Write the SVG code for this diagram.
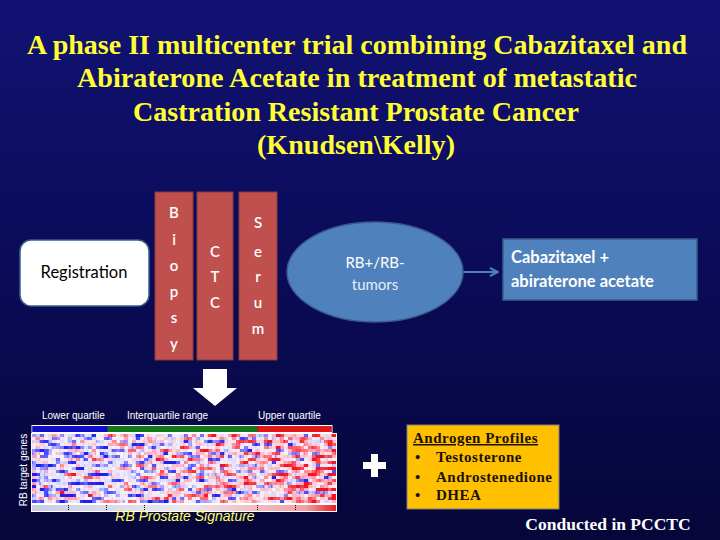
<svg xmlns="http://www.w3.org/2000/svg" width="720" height="540" viewBox="0 0 720 540">
  <defs>
    <linearGradient id="bg" x1="0" y1="0" x2="0" y2="1">
      <stop offset="0" stop-color="#121274"/>
      <stop offset="0.5" stop-color="#0b0b58"/>
      <stop offset="1" stop-color="#06063a"/>
    </linearGradient>
    <linearGradient id="trend" x1="0" y1="0" x2="1" y2="0">
      <stop offset="0" stop-color="#585858"/>
      <stop offset="0.45" stop-color="#7a7a7a"/>
      <stop offset="0.75" stop-color="#8e8e8e"/>
      <stop offset="1" stop-color="#b4b4b4"/>
    </linearGradient>
    <linearGradient id="sig" x1="0" y1="0" x2="1" y2="0">
      <stop offset="0" stop-color="#c8cbe8"/>
      <stop offset="0.5" stop-color="#ece6ee"/>
      <stop offset="0.9" stop-color="#f2a0a0"/>
      <stop offset="1" stop-color="#e82020"/>
    </linearGradient>
    <filter id="heat" x="0" y="0" width="1" height="1" color-interpolation-filters="sRGB">
      <feTurbulence type="fractalNoise" baseFrequency="0.09 0.33" numOctaves="2" seed="7" result="n"/>
      <feColorMatrix in="n" type="matrix" values="1 0 0 0 0  1 0 0 0 0  1 0 0 0 0  0 0 0 0 1" result="g"/>
      <feComposite in="g" in2="SourceGraphic" operator="arithmetic" k2="1.9" k3="1" k4="-0.95" result="v"/>
      <feComponentTransfer in="v" result="c">
        <feFuncR type="table" tableValues="0.12 0.4 0.85 0.97 1 1 0.95"/>
        <feFuncG type="table" tableValues="0.12 0.4 0.85 0.95 0.7 0.35 0.08"/>
        <feFuncB type="table" tableValues="0.95 1 1 0.97 0.75 0.4 0.12"/>
        <feFuncA type="linear" slope="0" intercept="1"/>
      </feComponentTransfer>
      <feFlood x="1" y="1" width="2" height="1" flood-color="#fff" result="f"/>
      <feComposite in="f" x="0" y="0" width="4" height="3"/>
      <feTile result="t"/>
      <feComposite in="c" in2="t" operator="in"/>
      <feMorphology operator="dilate" radius="1 1"/>
    </filter>
    <marker id="ah" viewBox="0 0 10 10" refX="9" refY="5" markerWidth="5" markerHeight="5" orient="auto">
      <path d="M1,1 L9,5 L1,9" fill="none" stroke="#4f81bd" stroke-width="2"/>
    </marker>
  </defs>
  <style>
    .title { font-family: "Liberation Serif", "Times New Roman", serif; font-weight: bold; font-size: 28px; fill: #ffff33; text-anchor: middle; }
    .col { fill: #c0504d; stroke: #8c3a38; stroke-width: 1; }
    .colt { font-family: Lato, "Liberation Sans", sans-serif; font-size: 15px; font-weight: 600; fill: #ffffff; text-anchor: middle; }
    .blue { fill: #4f81bd; stroke: #385d8a; stroke-width: 1.5; }
    .small { font-family: "Liberation Sans", Arial, sans-serif; font-size: 10px; fill: #ffffff; }
    .andro { font-family: "Liberation Serif", "Times New Roman", serif; font-weight: bold; font-size: 15px; letter-spacing: 0.5px; fill: #1a1208; }
  </style>

  <rect x="0" y="0" width="720" height="540" fill="url(#bg)"/>

  <g id="title">
    <text class="title" x="357" y="54" textLength="660" lengthAdjust="spacingAndGlyphs">A phase II multicenter trial combining Cabazitaxel and</text>
    <text class="title" x="357" y="87" textLength="560" lengthAdjust="spacingAndGlyphs">Abiraterone Acetate in treatment of metastatic</text>
    <text class="title" x="356" y="121" textLength="446" lengthAdjust="spacingAndGlyphs">Castration Resistant Prostate Cancer</text>
    <text class="title" x="356" y="154" textLength="198" lengthAdjust="spacingAndGlyphs">(Knudsen\Kelly)</text>
  </g>

  <g id="connectors">
    <line x1="463" y1="272" x2="498" y2="272" stroke="#4f81bd" stroke-width="2" marker-end="url(#ah)"/>
    <path d="M203,369 H227 V388 H237 L215,406 L193,388 H203 Z" fill="#ffffff"/>
  </g>

  <g id="registration">
    <rect x="20" y="240" width="129" height="66" rx="11" fill="#ffffff" stroke="#385d8a" stroke-width="1.5"/>
    <text x="84" y="278" font-family="Lato, 'Liberation Sans', sans-serif" font-size="16.5" fill="#000" text-anchor="middle">Registration</text>
  </g>

  <g id="biopsy">
    <rect class="col" x="155" y="192" width="38" height="168"/>
    <text class="colt" x="174" y="218">B</text>
    <text class="colt" x="174" y="245">i</text>
    <text class="colt" x="174" y="271">o</text>
    <text class="colt" x="174" y="297">p</text>
    <text class="colt" x="174" y="323">s</text>
    <text class="colt" x="174" y="349">y</text>
  </g>

  <g id="ctc">
    <rect class="col" x="197" y="192" width="36" height="168"/>
    <text class="colt" x="215" y="257">C</text>
    <text class="colt" x="215" y="282">T</text>
    <text class="colt" x="215" y="308">C</text>
  </g>

  <g id="serum">
    <rect class="col" x="239" y="192" width="38" height="168"/>
    <text class="colt" x="258" y="228">S</text>
    <text class="colt" x="258" y="257">e</text>
    <text class="colt" x="258" y="282">r</text>
    <text class="colt" x="258" y="308">u</text>
    <text class="colt" x="258" y="334">m</text>
  </g>

  <g id="rb-tumors">
    <ellipse class="blue" cx="375" cy="272" rx="88" ry="50"/>
    <text x="375" y="268" font-family="Lato, 'Liberation Sans', sans-serif" font-size="15" fill="#fff" text-anchor="middle">RB+/RB-</text>
    <text x="375" y="290" font-family="Lato, 'Liberation Sans', sans-serif" font-size="15" fill="#e8eef8" text-anchor="middle">tumors</text>
  </g>

  <g id="treatment">
    <rect class="blue" x="503" y="239" width="194" height="61"/>
    <text x="511" y="263" font-family="Lato, 'Liberation Sans', sans-serif" font-size="16.5" font-weight="bold" fill="#fff">Cabazitaxel  +</text>
    <text x="511" y="287" font-family="Lato, 'Liberation Sans', sans-serif" font-size="16.5" font-weight="bold" fill="#fff">abiraterone acetate</text>
  </g>

  <g id="heatmap">
    <text class="small" x="42" y="419">Lower quartile</text>
    <text class="small" x="127" y="419">Interquartile range</text>
    <text class="small" x="258" y="419">Upper quartile</text>
    <rect x="32" y="425.5" width="300" height="7" fill="none" stroke="#ffffff" stroke-width="1"/>
    <rect x="32.5" y="426" width="75" height="6" fill="#1010c8"/>
    <rect x="107.5" y="426" width="150" height="6" fill="#14781e"/>
    <rect x="257.5" y="426" width="74" height="6" fill="#e01818"/>
    <rect x="31" y="433" width="306" height="79" fill="#ffffff"/>
    <g transform="translate(32,434)">
      <rect x="0" y="0" width="304" height="70" fill="url(#trend)" filter="url(#heat)"/>
    </g>
    <rect x="32" y="505" width="304" height="6" fill="url(#sig)"/>
    <g stroke="#000" stroke-width="1" stroke-dasharray="1,1">
      <line x1="68.5" y1="505" x2="68.5" y2="511"/>
      <line x1="106.5" y1="505" x2="106.5" y2="511"/>
      <line x1="144.5" y1="505" x2="144.5" y2="511"/>
      <line x1="257.5" y1="505" x2="257.5" y2="511"/>
      <line x1="295.5" y1="505" x2="295.5" y2="511"/>
    </g>
    <text x="26" y="470" font-family="'Liberation Sans', Arial, sans-serif" font-size="10" fill="#fff" text-anchor="middle" transform="rotate(-90 26 470)" dy="1">RB target genes</text>
    <text x="185" y="521" font-family="'Liberation Sans', Arial, sans-serif" font-size="14" font-style="italic" fill="#ffff66" text-anchor="middle">RB Prostate Signature</text>
  </g>

  <g id="plus">
    <path d="M371,454 H378 V462 H386 V469 H378 V477 H371 V469 H363 V462 H371 Z" fill="#ffffff"/>
  </g>

  <g id="androgen">
    <rect x="407" y="425" width="152" height="84" fill="#ffc000" stroke="#7f7f7f" stroke-width="1"/>
    <text class="andro" x="413" y="443" text-decoration="underline">Androgen Profiles</text>
    <text class="andro" x="415" y="462">•</text>
    <text class="andro" x="436" y="462">Testosterone</text>
    <text class="andro" x="415" y="482">•</text>
    <text class="andro" x="436" y="482">Androstenedione</text>
    <text class="andro" x="415" y="500">•</text>
    <text class="andro" x="436" y="500">DHEA</text>
  </g>

  <g id="footer">
    <text x="608" y="530" font-family="'Liberation Serif', 'Times New Roman', serif" font-weight="bold" font-size="17.5" fill="#ffffff" text-anchor="middle">Conducted in PCCTC</text>
  </g>
</svg>
